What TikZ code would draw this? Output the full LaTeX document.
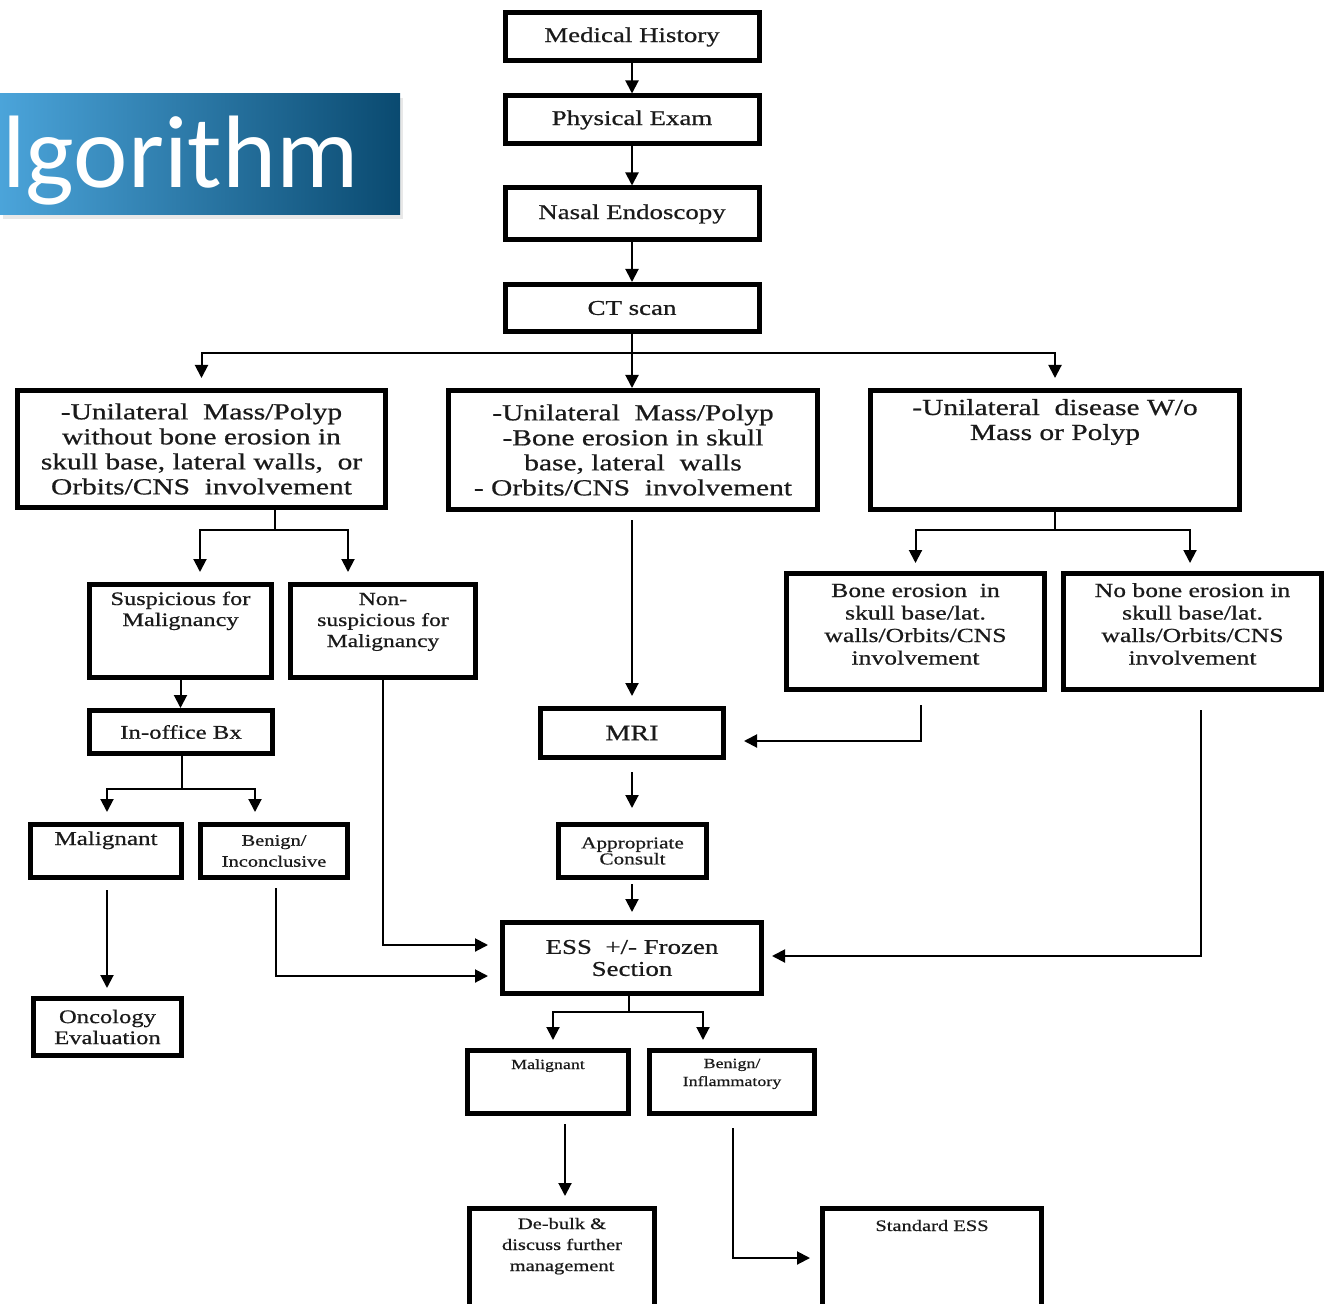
\documentclass[tikz,border=0pt]{standalone}
\usepackage{fontspec}
\setmainfont[FakeStretch=1.28,FakeBold=0.7]{Liberation Serif}
\newfontfamily\titlefont{Carlito}
\usetikzlibrary{arrows.meta}
\definecolor{bannerlight}{HTML}{4BA4DA}
\definecolor{bannerdark}{HTML}{0A4A70}
\definecolor{ink}{HTML}{1A1A1A}

\begin{document}
\begin{tikzpicture}[x=0.5pt,y=-0.5pt,
  box/.style={draw=black,line width=2.5pt,align=center,inner sep=3pt,text=ink},
  wh/.style 2 args={minimum width=#1*0.5pt,minimum height=#2*0.5pt},
  upper/.style 2 args={text height=#1,text depth=#2},
  fs/.style 2 args={font=\fontsize{#1}{#2}\selectfont},
  flow/.style={-{Triangle[width=6.5pt,length=6.5pt]},line width=1pt},
  link/.style={line width=1pt}]
\useasboundingbox (0,0) rectangle (1326,1304);

% title banner
\fill[black!9] (3,98) rectangle (403,219);
\shade[left color=bannerlight,right color=bannerdark] (0,94) rectangle (400,215);
\node[anchor=base west,inner sep=0pt,text=white,font=\titlefont\fontsize{51.5}{60}\selectfont] (title) at (2,188) {lgorithm};

% work-up chain
\foreach \y/\id/\t/\h in {37/hist/Medical History/48,120/exam/Physical Exam/48,214/endo/Nasal Endoscopy/52,308/ct/CT scan/47}
{
  \node[box,wh={254}{\h},fs={10.5}{12}] (\id) at (632,\y) {\t};
}
\foreach \a/\b in {hist/exam,exam/endo,endo/ct}{\draw[flow] (\a) -- (\b);}

% CT findings
\node[box,wh={368}{117},fs={11.5}{12.5}] (unimass) at (201.5,449) {-Unilateral\ \ Mass/Polyp\\without bone erosion in\\skull base, lateral walls,\ \ or\\Orbits/CNS\ \ involvement};
\node[box,wh={369}{119},fs={11.5}{12.5}] (unierode) at (633,450) {-Unilateral\ \ Mass/Polyp\\-Bone erosion in skull\\base, lateral\ \ walls\\- Orbits/CNS\ \ involvement};
\node[box,wh={369}{119},fs={11.5}{12.5},upper={21.75pt}{31.75pt}] (unidis) at (1055,450) {-Unilateral\ \ disease W/o\\Mass or Polyp};

% left branch
\node[box,wh={182}{93},fs={9.5}{10.5},upper={17.75pt}{22.75pt}] (susp) at (180.5,631) {Suspicious for\\Malignancy};
\node[box,wh={185}{93},fs={9.2}{10.5},upper={28.25pt}{12.25pt}] (nonsusp) at (383,631) {Non-\\suspicious for\\Malignancy};
\node[box,wh={183}{43},fs={9.7}{11}] (bx) at (181,732) {In-office Bx};
\node[box,wh={151}{53},fs={9.8}{11},upper={7.25pt}{13.25pt}] (malL) at (106,851) {Malignant};
\node[box,wh={147}{53},fs={8}{10.5}] (benL) at (274,851) {Benign/\\Inconclusive};
\node[box,wh={148}{57},fs={9.6}{10.5}] (onco) at (107.5,1027) {Oncology\\Evaluation};

% middle branch
\node[box,wh={183}{49},fs={11}{12}] (mri) at (632,733) {MRI};
\node[box,wh={148}{53},fs={8.3}{8}] (consult) at (632.5,851) {Appropriate\\Consult};
\node[box,wh={259}{71},fs={10.5}{11}] (ess) at (632,958) {ESS\ \ +/- Frozen\\Section};

% right branch
\node[box,wh={258}{116},fs={10}{11.25},upper={42.5pt}{9.5pt}] (boneer) at (915.5,631.5) {Bone erosion\ \ in\\skull base/lat.\\walls/Orbits/CNS\\involvement};
\node[box,wh={258}{116},fs={10}{11.25},upper={42.5pt}{9.5pt}] (nobone) at (1192.5,631.5) {No bone erosion in\\skull base/lat.\\walls/Orbits/CNS\\involvement};

% after ESS
\node[box,wh={161}{63},fs={7}{9},upper={6.25pt}{19.25pt}] (malE) at (548,1082) {Malignant};
\node[box,wh={165}{63},fs={7}{9},upper={14.75pt}{10.75pt}] (benE) at (732,1082) {Benign/\\Inflammatory};
\node[box,wh={185}{121},fs={8}{10.5},upper={28.25pt}{26.25pt}] (debulk) at (562,1269) {De-bulk \&\\discuss further\\management};
\node[box,wh={219}{121},fs={8}{10},upper={8.25pt}{46.25pt}] (stdess) at (932,1269) {Standard ESS};

% split points
\coordinate (ctsplit) at (632,353);
\coordinate (lsplit) at (275,530);
\coordinate (rsplit) at (1055,530);
\coordinate (bxsplit) at (182,789);
\coordinate (esssplit) at (629,1012);

% connectors
\draw[flow] (ct.south) -- (ct.south |- unierode.north);
\draw[flow,shorten >=5pt] (ctsplit) -| (unimass.north);
\draw[flow,shorten >=5pt] (ctsplit) -| (unidis.north);

\draw[link] (unimass.south -| lsplit) -- (lsplit);
\draw[flow,shorten >=5pt] (lsplit) -| (susp.north -| 200,0);
\draw[flow,shorten >=5pt] (lsplit) -| (nonsusp.north -| 348,0);
\draw[flow] (susp.south) -- (susp.south |- bx.north);
\draw[link] (bx.south -| bxsplit) -- (bxsplit);
\draw[flow,shorten >=5pt] (bxsplit) -| (malL.north -| 107,0);
\draw[flow,shorten >=5pt] (bxsplit) -| (benL.north -| 255,0);
\draw[flow,shorten <=5pt,shorten >=4pt] (malL.south -| 107,0) -- (onco.north -| 107,0);
\draw[flow,shorten <=4pt,shorten >=6pt] (benL.south -| 276,0) |- (ess.west |- 0,976);
\draw[flow,shorten >=6pt] (nonsusp.south) |- (ess.west |- 0,945);

\draw[flow,shorten <=4pt,shorten >=5pt] (unierode.south -| 632,0) -- (mri.north);
\draw[flow,shorten <=6pt,shorten >=7pt] (mri.south) -- (mri.south |- consult.north);
\draw[flow,shorten <=2pt,shorten >=4pt] (consult.south -| mri.south) -- (mri.south |- ess.north);

\draw[link] (unidis.south) -- (rsplit);
\draw[flow,shorten >=4pt] (rsplit) -| (boneer.north);
\draw[flow,shorten >=4pt] (rsplit) -| (nobone.north -| 1190,0);
\draw[flow,shorten <=6.5pt,shorten >=9pt] (boneer.south -| 921,0) |- (mri.east |- 0,741);
\draw[flow,shorten <=9pt,shorten >=4pt] (nobone.south -| 1201,0) |- (ess.east |- 0,956);

\draw[link] (ess.south -| esssplit) -- (esssplit);
\draw[flow,shorten >=4pt] (esssplit) -| (malE.north -| 553,0);
\draw[flow,shorten >=4pt] (esssplit) -| (benE.north -| 703,0);
\draw[flow,shorten <=4pt,shorten >=5pt] (malE.south -| 565,0) -- (debulk.north -| 565,0);
\draw[flow,shorten <=6pt,shorten >=5pt] (benE.south -| 733,0) |- (stdess.west |- 0,1258);
\end{tikzpicture}
\end{document}
